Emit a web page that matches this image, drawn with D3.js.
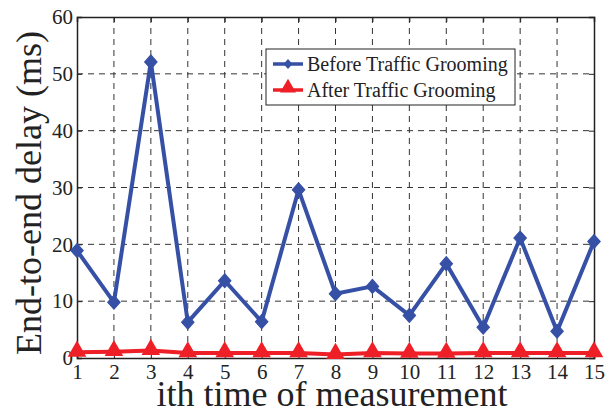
<!DOCTYPE html>
<html>
<head>
<meta charset="utf-8">
<script src="https://cdn.jsdelivr.net/npm/d3@7"></script>
<style>
body { margin: 0; background: #fff; }
text { font-family: "Liberation Serif", "Times New Roman", serif; fill: #222; }
</style>
</head>
<body>
<script>
var w = 608;
var h = 414;

// data
var measurements = [1, 2, 3, 4, 5, 6, 7, 8, 9, 10, 11, 12, 13, 14, 15];
var beforeGrooming = [18.9, 9.8, 52.1, 6.3, 13.6, 6.4, 29.6, 11.3, 12.6, 7.5, 16.6, 5.4, 21.1, 4.7, 20.5];
var afterGrooming = [1.0, 1.1, 1.3, 0.9, 0.9, 0.9, 0.9, 0.6, 0.9, 0.8, 0.8, 0.9, 0.9, 0.9, 0.9];
var yTicks = [0, 10, 20, 30, 40, 50, 60];
var seriesNames = ["Before Traffic Grooming", "After Traffic Grooming"];

var blue = "#3650a6";
var red = "#ee1f26";

var plotLeft = 77, plotRight = 594, plotTop = 17, plotBottom = 358;

var svg = d3.select("body").append("svg")
    .attr("width", w)
    .attr("height", h);

var x = d3.scaleLinear().domain([1, 15]).range([plotLeft, plotRight]);
var y = d3.scaleLinear().domain([0, 60]).range([plotBottom, plotTop]);

// grid
svg.append("g").selectAll("line")
    .data(measurements.slice(1, -1)).enter()
    .append("line")
    .attr("x1", function(d) { return x(d); })
    .attr("x2", function(d) { return x(d); })
    .attr("y1", plotTop).attr("y2", plotBottom)
    .attr("stroke", "#333").attr("stroke-width", 1)
    .attr("stroke-dasharray", "6,5");

svg.append("g").selectAll("line")
    .data(yTicks.slice(1, -1)).enter()
    .append("line")
    .attr("x1", plotLeft).attr("x2", plotRight)
    .attr("y1", function(d) { return y(d); })
    .attr("y2", function(d) { return y(d); })
    .attr("stroke", "#333").attr("stroke-width", 1)
    .attr("stroke-dasharray", "6,5");

// axes with inward ticks
var xAxis = svg.append("g")
    .attr("transform", "translate(0," + plotBottom + ")")
    .call(d3.axisBottom(x).tickValues(measurements).tickSize(-5).tickPadding(6).tickFormat(d3.format("d")));
var xTop = svg.append("g")
    .attr("transform", "translate(0," + plotTop + ")")
    .call(d3.axisTop(x).tickValues(measurements).tickSize(-5).tickFormat(""));
var yAxis = svg.append("g")
    .attr("transform", "translate(" + plotLeft + ",0)")
    .call(d3.axisLeft(y).tickValues(yTicks).tickSize(-5).tickPadding(4));
var yRight = svg.append("g")
    .attr("transform", "translate(" + plotRight + ",0)")
    .call(d3.axisRight(y).tickValues(yTicks).tickSize(-5).tickFormat(""));

[xAxis, xTop, yAxis, yRight].forEach(function(a) {
    a.attr("font-family", null);
    a.select(".domain").attr("stroke", "#222").attr("stroke-width", 1.5);
    a.selectAll(".tick line").attr("stroke", "#222");
    a.selectAll("text").style("font-size", "21px").attr("fill", "#222");
});

// lines
var line = d3.line()
    .x(function(d, i) { return x(measurements[i]); })
    .y(function(d) { return y(d); });

var diamond = d3.symbol().type(d3.symbolSquare).size(78);
var triangle = d3.symbol().type(d3.symbolTriangle).size(150);

svg.append("path")
    .datum(afterGrooming)
    .attr("d", line)
    .attr("fill", "none")
    .attr("stroke", red)
    .attr("stroke-width", 4);

svg.append("g").selectAll("path")
    .data(afterGrooming).enter()
    .append("path")
    .attr("d", triangle)
    .attr("transform", function(d, i) { return "translate(" + x(measurements[i]) + "," + (y(d) - 1) + ")"; })
    .attr("fill", red);

svg.append("path")
    .datum(beforeGrooming)
    .attr("d", line)
    .attr("fill", "none")
    .attr("stroke", blue)
    .attr("stroke-width", 4);

svg.append("g").selectAll("path")
    .data(beforeGrooming).enter()
    .append("path")
    .attr("d", diamond)
    .attr("transform", function(d, i) { return "translate(" + x(measurements[i]) + "," + y(d) + ") scale(1,1.12) rotate(45)"; })
    .attr("fill", blue)
    .attr("stroke", blue)
    .attr("stroke-width", 1);

// legend
var legend = svg.append("g");
legend.append("rect")
    .attr("x", 266).attr("y", 49)
    .attr("width", 249).attr("height", 56)
    .attr("fill", "#fff")
    .attr("stroke", "#222").attr("stroke-width", 1);

var legendColors = [blue, red];
seriesNames.forEach(function(name, i) {
    var ly = 64 + i * 26;
    legend.append("line")
        .attr("x1", 273).attr("x2", 303)
        .attr("y1", ly).attr("y2", ly)
        .attr("stroke", legendColors[i]).attr("stroke-width", 3.5);
    if (i == 0) {
        legend.append("path")
            .attr("d", d3.symbol().type(d3.symbolSquare).size(40))
            .attr("transform", "translate(288," + ly + ") scale(1,1.12) rotate(45)")
            .attr("fill", blue);
    } else {
        legend.append("path")
            .attr("d", d3.symbol().type(d3.symbolTriangle).size(110))
            .attr("transform", "translate(288," + (ly - 2) + ")")
            .attr("fill", red);
    }
    legend.append("text")
        .attr("x", 307).attr("y", ly)
        .attr("dy", "0.35em")
        .style("font-size", "20px")
        .text(name);
});

// axis titles
svg.append("text")
    .attr("transform", "translate(41," + 193 + ") rotate(-90)")
    .attr("text-anchor", "middle")
    .style("font-size", "36px")
    .text("End-to-end delay (ms)");

svg.append("text")
    .attr("x", 332)
    .attr("y", 406)
    .attr("text-anchor", "middle")
    .style("font-size", "36px")
    .text("ith time of measurement");
</script>
</body>
</html>
